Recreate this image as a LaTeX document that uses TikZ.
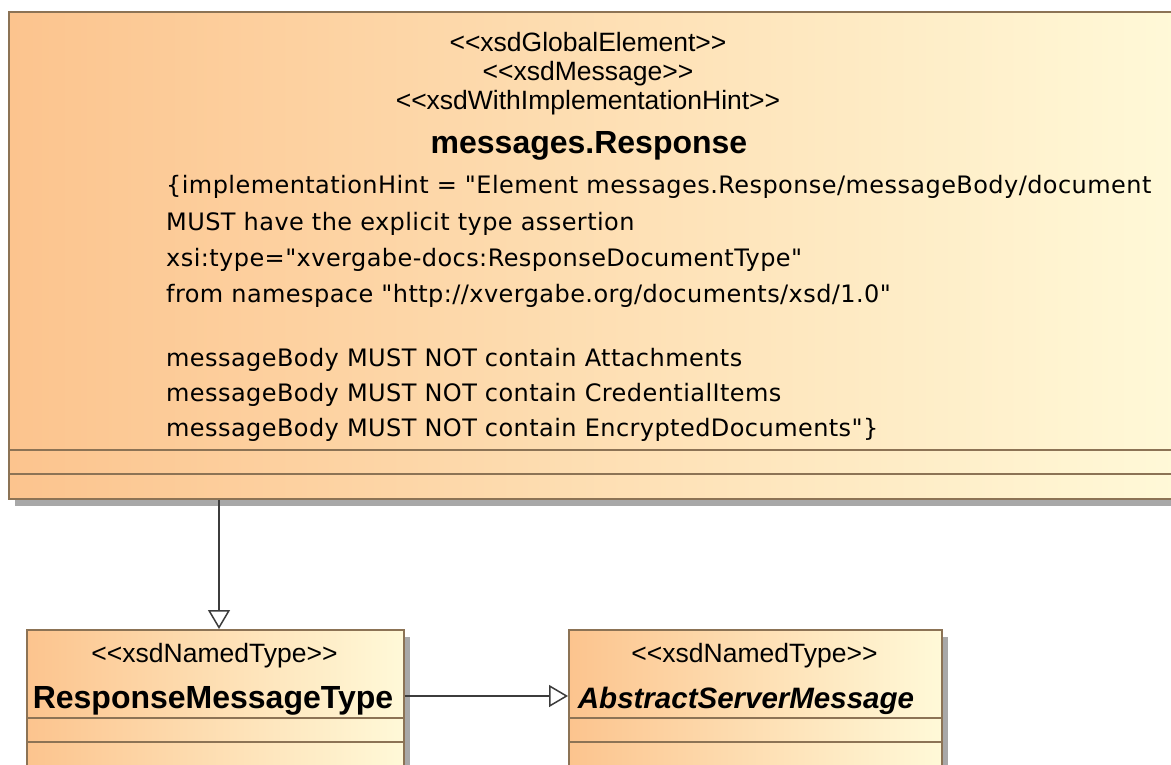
\documentclass[tikz,border=0pt]{standalone}
\usepackage{fontspec}
\setmainfont{Liberation Sans}
\newfontfamily\cfont[LetterSpace=1.8]{DejaVu Sans}
\usetikzlibrary{arrows.meta,shadows}
\newcommand\stereotype[1]{<{}<#1>{}>}
\definecolor{umlL}{RGB}{252,196,142}
\definecolor{umlR}{RGB}{255,249,216}
\definecolor{umlB}{RGB}{140,115,85}
\definecolor{shadowc}{RGB}{168,168,168}
\definecolor{linec}{RGB}{60,60,60}
\begin{document}
\begin{tikzpicture}[x=1pt,y=-1pt,
  umlbox/.style={draw=umlB, line width=1.8pt, left color=umlL, right color=umlR,
    inner sep=0pt, anchor=north west,
    drop shadow={shadow xshift=6pt, shadow yshift=-7pt, fill=shadowc, opacity=1}},
  sep/.style={draw=umlB, line width=1.8pt},
  stereo/.style={font=\fontsize{26.5}{28}\selectfont, inner sep=0pt, anchor=base},
  cname/.style={font=\fontsize{32}{34}\selectfont\bfseries, inner sep=0pt, anchor=base},
  cnameit/.style={font=\fontsize{29.5}{34}\selectfont\bfseries\itshape, inner sep=0pt, anchor=base},
  ctext/.style={font=\cfont\fontsize{24}{26}\selectfont, inner sep=0pt, anchor=base west},
  gen/.style={draw=linec, line width=1.5pt, -{Triangle[length=19pt,width=22pt,fill=white]}}]
\useasboundingbox (0,0) rectangle (1171,765);
\clip (0,0) rectangle (1171,765);
\fill[white] (0,0) rectangle (1171,765);

% big class box
\node[umlbox, minimum width=1170pt, minimum height=487pt] (resp) at (8,11) {};
\draw[sep] (resp.west |- 0,450) -- (resp.east |- 0,450);
\draw[sep] (resp.west |- 0,474) -- (resp.east |- 0,474);

\node[stereo] (s1) at (588,52) {\stereotype{xsdGlobalElement}};
\node[stereo] (s2) at (588,81) {\stereotype{xsdMessage}};
\node[stereo] (s3) at (588,110) {\stereotype{xsdWithImplementationHint}};
\node[cname] (nm) at (589,154) {messages.Response};

\node[ctext] (c1) at (166,194) {\{implementationHint = "Element messages.Response/messageBody/document};
\node[ctext] (c2) at (166,230) {MUST have the explicit type assertion};
\node[ctext] (c3) at (166,266) {xsi:type="xvergabe-docs:ResponseDocumentType"};
\node[ctext] (c4) at (166,302) {from namespace "http://xvergabe.org/documents/xsd/1.0"};
\node[ctext] (c5) at (166,366) {messageBody MUST NOT contain Attachments};
\node[ctext] (c6) at (166,401) {messageBody MUST NOT contain CredentialItems};
\node[ctext] (c7) at (166,436) {messageBody MUST NOT contain EncryptedDocuments"\}};

% ResponseMessageType
\node[umlbox, minimum width=377pt, minimum height=140pt] (rmt) at (26,629) {};
\draw[sep] (rmt.west |- 0,718) -- (rmt.east |- 0,718);
\draw[sep] (rmt.west |- 0,742) -- (rmt.east |- 0,742);
\node[stereo] (rs) at (214.5,662) {\stereotype{xsdNamedType}};
\node[cname] (rn) at (213,708) {ResponseMessageType};

% AbstractServerMessage
\node[umlbox, minimum width=373pt, minimum height=140pt] (asm) at (568,629) {};
\draw[sep] (asm.west |- 0,718) -- (asm.east |- 0,718);
\draw[sep] (asm.west |- 0,742) -- (asm.east |- 0,742);
\node[stereo] (as) at (754.5,662) {\stereotype{xsdNamedType}};
\node[cnameit] (an) at (746,708) {AbstractServerMessage};

% generalizations
\coordinate (g1) at (219,0);
\coordinate (g2) at (0,696);
\draw[gen] (resp.south -| g1) -- (rmt.north -| g1);
\draw[gen] (rmt.east |- g2) -- (asm.west |- g2);
\end{tikzpicture}
\end{document}
